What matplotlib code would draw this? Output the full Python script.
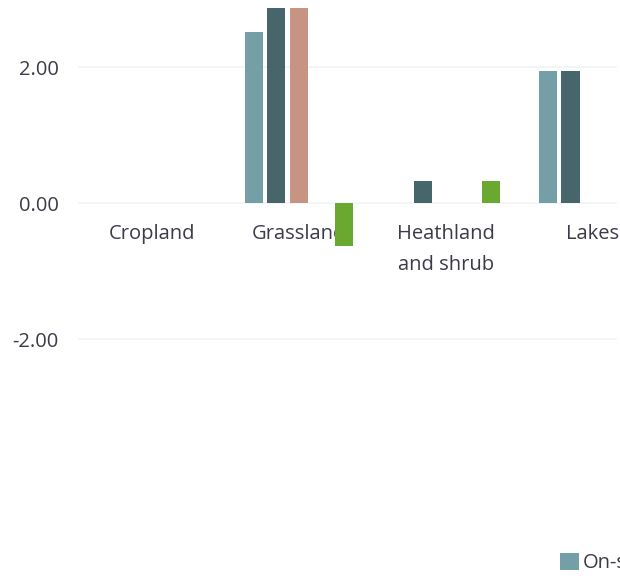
import matplotlib.pyplot as plt
import numpy as np

plt.rcParams['font.family'] = ['Open Sans', 'DejaVu Sans']

# ---------- data ----------
categories = ["Cropland", "Grassland", "Heathland\nand shrub", "Lakes"]
series_names = ["On-site", "Off-site", "Direct", "Indirect", "Net change"]
series_colors = ["#759fa6", "#47666b", "#c79484", "#a3b8bb", "#6aa82f"]
values = [
    [0.0, 2.51, 0.0, 1.94],    # On-site
    [0.0, 3.10, 0.32, 1.94],   # Off-site
    [0.0, 3.05, 0.0, 0.0],     # Direct
    [0.0, 0.0, 0.0, 0.0],      # Indirect
    [0.0, -0.63, 0.32, 0.0],   # Net change
]
y_ticks = [-2.0, 0.0, 2.0]

text_color = "#3b3b4a"
grid_color = "#f0f3f3"
fs = 14.5

# ---------- figure ----------
fig = plt.figure(figsize=(6.2, 5.78), dpi=100)
ax = fig.add_axes([78/620, 1 - 407/578, (617 - 78)/620, 399/578])

x = np.arange(len(categories))
slot = 22.5 / 147
bar_w = 18 / 147
for i, (name, color, vals) in enumerate(zip(series_names, series_colors, values)):
    ax.bar(x + (i - 2) * slot, vals, width=bar_w, color=color, label=name, zorder=2)

ax.set_xlim(-0.5, 3.163)
ax.set_ylim(-3.0, 2.87)
ax.set_axisbelow(True)

ax.set_yticks(y_ticks)
ax.set_yticklabels([f"{v:.2f}" for v in y_ticks])
ax.yaxis.grid(True, color=grid_color, linewidth=1.2)
ax.set_xticks(x)
ax.set_xticklabels(categories)

for s in ax.spines.values():
    s.set_visible(False)
ax.spines['bottom'].set_position(('data', 0))
ax.tick_params(axis='both', length=0, colors=text_color, labelsize=fs)
ax.tick_params(axis='x', pad=15)
ax.tick_params(axis='y', pad=14)
for lbl in ax.get_xticklabels():
    lbl.set_linespacing(1.75)

# legend runs off the right edge like the original
handles, labels = ax.get_legend_handles_labels()
fig.legend(handles, labels, loc='center left', bbox_to_anchor=(560/620, 1 - 563/578),
           ncol=5, frameon=False, fontsize=fs, labelcolor=text_color,
           borderpad=0, borderaxespad=0,
           handlelength=0.95, handleheight=0.95, handletextpad=0.2, columnspacing=1.0)

fig.savefig("out.png", dpi=100)
